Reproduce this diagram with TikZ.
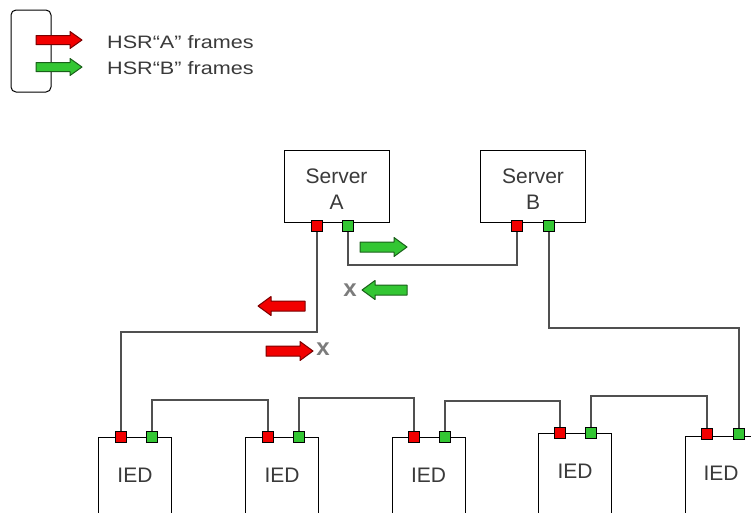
\documentclass[tikz,border=0pt]{standalone}
\usepackage{fontspec}
\setmainfont{Liberation Sans}
\usetikzlibrary{calc}
\definecolor{txt}{HTML}{3A3A3A}
\definecolor{wire}{HTML}{505050}
\definecolor{portred}{HTML}{F20000}
\definecolor{portgreen}{HTML}{33C633}
\definecolor{rededge}{HTML}{7A0000}
\definecolor{greenedge}{HTML}{1A601A}
\definecolor{xgray}{HTML}{7C7C7C}

% block arrow: #1 tail x, #2 tip x, #3 centre y, #4 fill, #5 edge,
% #6 half body height, #7 half head height, #8 head length
\newcommand\blockarrow[8]{%
  \pgfmathsetmacro\hl{#2>#1 ? #8 : -#8}%
  \filldraw[fill=#4,draw=#5,line width=1pt,line join=round]
    (#1,{#3-#6}) -- ({#2-\hl},{#3-#6}) -- ({#2-\hl},{#3-#7}) -- (#2,#3)
    -- ({#2-\hl},{#3+#7}) -- ({#2-\hl},{#3+#6}) -- (#1,{#3+#6}) -- cycle;}

\tikzset{
  unitbox/.style={draw=black,line width=1pt,fill=white,inner sep=0pt},
  server/.style={unitbox,minimum width=105pt,minimum height=72pt},
  serverlabel/.style={align=center,text=txt,inner sep=0pt,
    font=\fontsize{21}{26}\selectfont},
  ied/.style={unitbox,minimum width=73pt,minimum height=100pt,anchor=north},
  iedlabel/.style={text=txt,font=\fontsize{21}{24}\selectfont,inner sep=0pt},
  port/.style={draw=black,line width=1pt,minimum size=11pt,inner sep=0pt},
  redport/.style={port,fill=portred},
  greenport/.style={port,fill=portgreen},
  link/.style={draw=wire,line width=1.3pt},
  legendtext/.style={text=txt,font=\fontsize{18}{20}\selectfont,anchor=west,inner sep=0pt},
  lost/.style={text=xgray,font=\bfseries\fontsize{24}{24}\selectfont,inner sep=0pt}
}

\begin{document}
\begin{tikzpicture}[x=1pt,y=-1pt]
\useasboundingbox (0,0) rectangle (751,512);
\clip (0,0) rectangle (751,512);

% legend
\node[draw=black,line width=1pt,rounded corners=5pt,minimum width=40pt,
      minimum height=82pt,inner sep=0pt] (legend) at (31,51) {};
\blockarrow{36}{82}{40}{portred}{rededge}{4.5}{8.5}{12}
\blockarrow{36}{82}{67}{portgreen}{greenedge}{4.5}{8.5}{12}
\node[legendtext] (legA) at (107,42) {\scalebox{1.2}[1]{HSR“A” frames}};
\node[legendtext] (legB) at (107,68) {\scalebox{1.2}[1]{HSR“B” frames}};

% servers
\node[server] (srvA) at (336.5,186.5) {};
\node[server] (srvB) at (533,186.5) {};
\node[serverlabel] (srvAtxt) at (336.5,189) {Server\\A};
\node[serverlabel] (srvBtxt) at (533,189) {Server\\B};
\node[redport]   (Ar) at (317,226) {};
\node[greenport] (Ag) at (348,226) {};
\node[redport]   (Br) at (517,226) {};
\node[greenport] (Bg) at (549,226) {};

% IEDs
\node[ied] (ied1) at (135,437) {};
\node[ied] (ied2) at (282,437) {};
\node[ied] (ied3) at (428.5,437) {};
\node[ied] (ied4) at (575,433) {};
\node[ied] (ied5) at (722,436) {};
\node[iedlabel] (lab1) at (135,475) {IED};
\node[iedlabel] (lab2) at (282,475) {IED};
\node[iedlabel] (lab3) at (428.5,475) {IED};
\node[iedlabel] (lab4) at (575,471) {IED};
\node[iedlabel] (lab5) at (721,473) {IED};

\node[redport]   (r1) at (121,437) {};
\node[greenport] (g1) at (152,437) {};
\node[redport]   (r2) at (268,437) {};
\node[greenport] (g2) at (299,437) {};
\node[redport]   (r3) at (414,437) {};
\node[greenport] (g3) at (445,437) {};
\node[redport]   (r4) at (560,433) {};
\node[greenport] (g4) at (591,433) {};
\node[redport]   (r5) at (707,434) {};
\node[greenport] (g5) at (739,434) {};

% ring links
\draw[link] (Ag.south) -- (Ag.south |- 0,265) -| (Br.south);
\draw[link] (Ar.south) -- (Ar.south |- 0,332) -| (r1.north);
\draw[link] (Bg.south) -- (Bg.south |- 0,328) -| (g5.north);
\draw[link] (g1.north) -- (g1.north |- 0,400) -| (r2.north);
\draw[link] (g2.north) -- (g2.north |- 0,398) -| (r3.north);
\draw[link] (g3.north) -- (g3.north |- 0,401) -| (r4.north);
\draw[link] (g4.north) -- (g4.north |- 0,396) -| (r5.north);

% frame flow
\blockarrow{360}{407}{247}{portgreen}{greenedge}{5}{9.5}{13}
\blockarrow{407}{362}{290}{portgreen}{greenedge}{5}{9.5}{13}
\blockarrow{305}{258}{306}{portred}{rededge}{5}{9.5}{13}
\blockarrow{266}{313}{351}{portred}{rededge}{5}{9.5}{13}
\node[lost] (xB) at (350,290) {x};
\node[lost] (xA) at (323,349) {x};
\end{tikzpicture}
\end{document}
